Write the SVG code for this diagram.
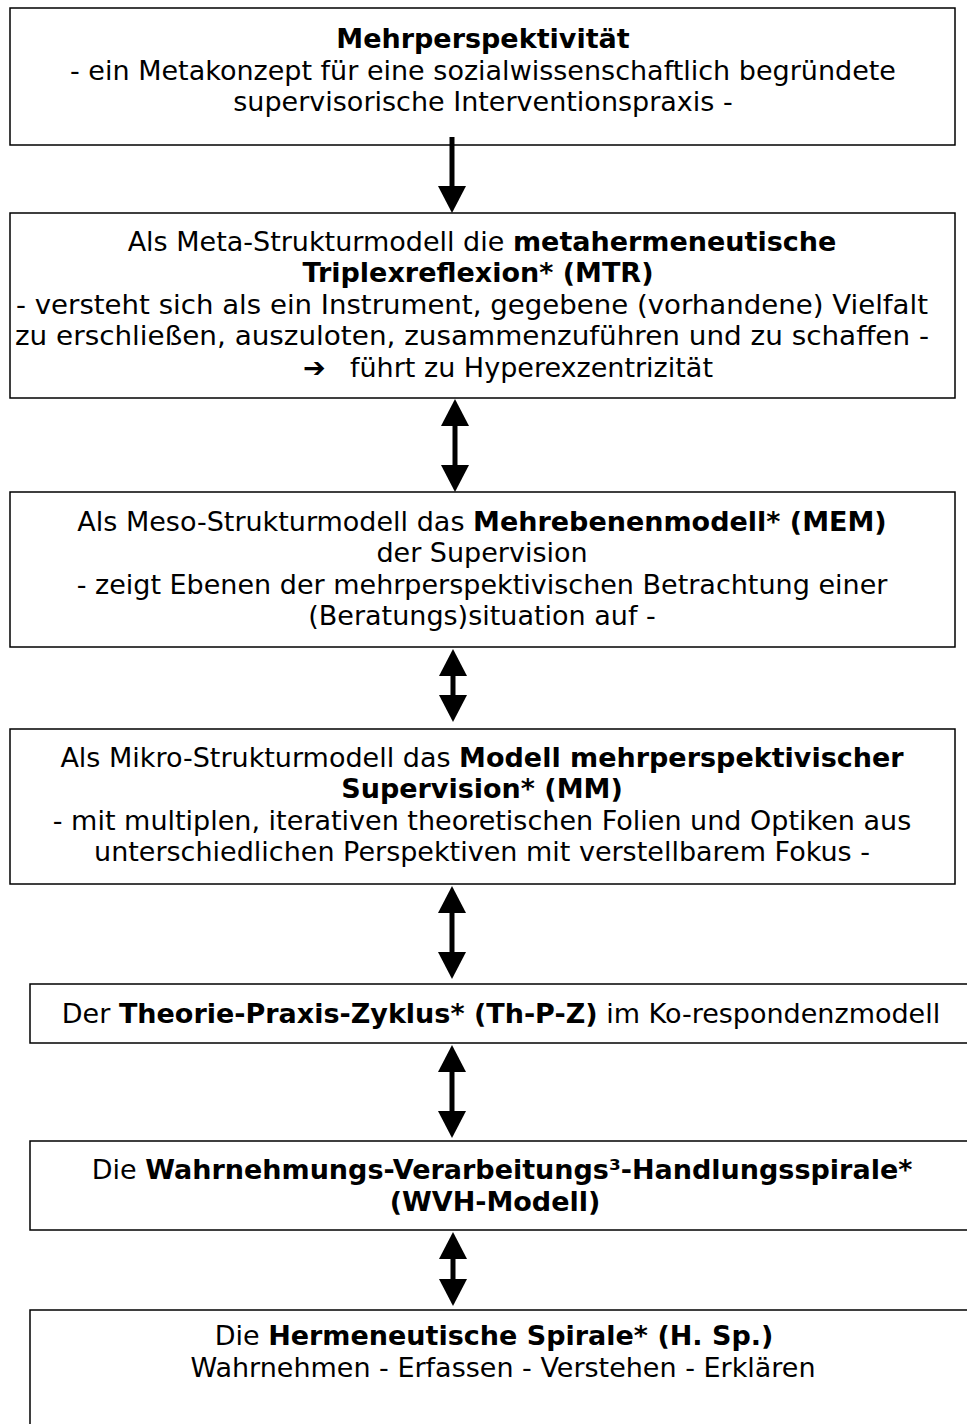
<svg xmlns="http://www.w3.org/2000/svg" width="967" height="1424" viewBox="0 0 967 1424">
<style>
.box{fill:#fff;stroke:#000;stroke-width:1.5}
text{font-family:"DejaVu Sans",Verdana,sans-serif;font-size:27px;fill:#000;text-anchor:middle}
.b{font-weight:bold}
.l{text-anchor:start}
.conn{stroke:#000;stroke-width:5;fill:none}
</style>
<defs>
<marker id="ah" markerUnits="userSpaceOnUse" markerWidth="28" markerHeight="28" viewBox="0 0 28 28" refX="1" refY="14" orient="auto-start-reverse">
<path d="M0,0 L27,14 L0,28 Z" fill="#000"/>
</marker>
</defs>
<rect width="967" height="1424" fill="#fff"/>
<g id="node1">
<rect class="box" x="10" y="8" width="945" height="137"/>
<text x="483" y="48" class="b">Mehrperspektivität</text>
<text x="483" y="80">- ein Metakonzept für eine sozialwissenschaftlich begründete</text>
<text x="483" y="111">supervisorische Interventionspraxis -</text>
</g>
<g id="node2">
<rect class="box" x="10" y="213" width="945" height="185"/>
<text x="482" y="251">Als Meta-Strukturmodell die <tspan class="b">metahermeneutische</tspan></text>
<text x="478" y="282" class="b">Triplexreflexion* (MTR)</text>
<text x="16" y="314" class="l" textLength="912" lengthAdjust="spacingAndGlyphs">- versteht sich als ein Instrument, gegebene (vorhandene) Vielfalt</text>
<text x="15" y="345" class="l" textLength="914" lengthAdjust="spacingAndGlyphs">zu erschließen, auszuloten, zusammenzuführen und zu schaffen -</text>
<text y="377" class="l"><tspan x="303">➔</tspan><tspan x="350">führt zu Hyperexzentrizität</tspan></text>
</g>
<g id="node3">
<rect class="box" x="10" y="492" width="945" height="155"/>
<text x="482" y="531">Als Meso-Strukturmodell das <tspan class="b">Mehrebenenmodell* (MEM)</tspan></text>
<text x="482" y="562">der Supervision</text>
<text x="482" y="594">- zeigt Ebenen der mehrperspektivischen Betrachtung einer</text>
<text x="482" y="625">(Beratungs)situation auf -</text>
</g>
<g id="node4">
<rect class="box" x="10" y="729" width="945" height="155"/>
<text x="482" y="767">Als Mikro-Strukturmodell das <tspan class="b">Modell mehrperspektivischer</tspan></text>
<text x="482" y="798" class="b">Supervision* (MM)</text>
<text x="482" y="830">- mit multiplen, iterativen theoretischen Folien und Optiken aus</text>
<text x="482" y="861">unterschiedlichen Perspektiven mit verstellbarem Fokus -</text>
</g>
<g id="node5">
<rect class="box" x="30" y="984" width="945" height="59"/>
<text x="501" y="1023">Der <tspan class="b">Theorie-Praxis-Zyklus* (Th-P-Z)</tspan> im Ko-respondenzmodell</text>
</g>
<g id="node6">
<rect class="box" x="30" y="1141" width="945" height="89"/>
<text x="502" y="1179">Die <tspan class="b">Wahrnehmungs-Verarbeitungs³-Handlungsspirale*</tspan></text>
<text x="495" y="1211" class="b">(WVH-Modell)</text>
</g>
<g id="node7">
<rect class="box" x="30" y="1310" width="945" height="130"/>
<text x="494" y="1345">Die <tspan class="b">Hermeneutische Spirale* (H. Sp.)</tspan></text>
<text x="503" y="1377">Wahrnehmen - Erfassen - Verstehen - Erklären</text>
</g>
<g id="connectors">
<line class="conn" x1="452" y1="137" x2="452" y2="187" marker-end="url(#ah)"/>
<line class="conn" x1="455" y1="425" x2="455" y2="466" marker-start="url(#ah)" marker-end="url(#ah)"/>
<line class="conn" x1="453" y1="675" x2="453" y2="696" marker-start="url(#ah)" marker-end="url(#ah)"/>
<line class="conn" x1="452" y1="912" x2="452" y2="953" marker-start="url(#ah)" marker-end="url(#ah)"/>
<line class="conn" x1="452" y1="1071" x2="452" y2="1112" marker-start="url(#ah)" marker-end="url(#ah)"/>
<line class="conn" x1="453" y1="1258" x2="453" y2="1280" marker-start="url(#ah)" marker-end="url(#ah)"/>
</g>
</svg>
